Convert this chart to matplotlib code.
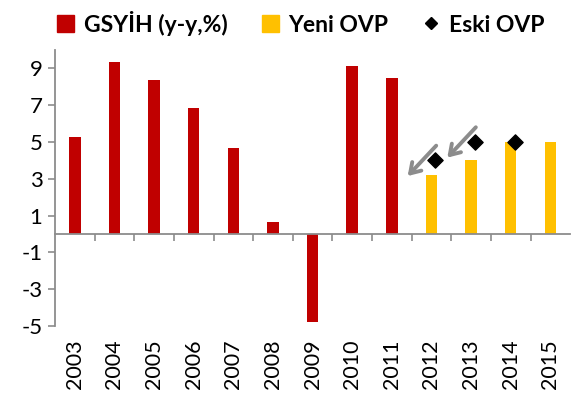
import numpy as np
import matplotlib.pyplot as plt
from matplotlib.lines import Line2D
from matplotlib.patches import Patch
import matplotlib.transforms as mtransforms

plt.rcParams['font.family'] = ['Lato', 'DejaVu Sans']
plt.rcParams['axes.unicode_minus'] = False

years = ['2003', '2004', '2005', '2006', '2007', '2008', '2009',
         '2010', '2011', '2012', '2013', '2014', '2015']
gsyih = [5.25, 9.35, 8.35, 6.85, 4.65, 0.65, -4.8, 9.15, 8.5]
yeni_ovp = [3.2, 4.0, 5.0, 5.0]
eski_ovp = [4.0, 5.0, 5.0]
yticks = [-5, -3, -1, 1, 3, 5, 7, 9]

red = '#C00000'
yellow = '#FFC000'
gray = '#8C8C8C'

fig = plt.figure(figsize=(5.73, 4.03), dpi=100)
ax = fig.add_axes([0.096, 0.191, 0.899, 0.685])

x = np.arange(len(years))
n_hist = len(gsyih)
w = 0.29
ax.bar(x[:n_hist], gsyih, width=w, color=red)
ax.bar(x[n_hist:], yeni_ovp, width=w, color=yellow)
ax.scatter(x[n_hist:n_hist + len(eski_ovp)] + 0.1, eski_ovp, marker='D', s=60,
           color='black', zorder=4)

# arrows pointing from old forecasts to the revised ones
for i, v in zip(x[n_hist:n_hist + 2], eski_ovp[:2]):
    ax.annotate('', xy=(i - 0.6, v - 0.85), xytext=(i + 0.12, v + 0.8),
                arrowprops=dict(arrowstyle='->,head_length=0.7,head_width=0.45',
                                color=gray, lw=2.8, shrinkA=0, shrinkB=0))

ax.set_xlim(-0.5, len(years) - 0.5)
ax.set_ylim(-5, 10)
ax.set_yticks(yticks)
ax.tick_params(axis='y', labelsize=16, color=gray, length=5, width=1.2, pad=4)

for s in ['top', 'right']:
    ax.spines[s].set_visible(False)
ax.spines['left'].set_color(gray)
ax.spines['left'].set_linewidth(1.3)
ax.spines['left'].set_bounds(-5, 10)
ax.spines['bottom'].set_position(('data', 0))
ax.spines['bottom'].set_color(gray)
ax.spines['bottom'].set_linewidth(1.3)
ax.set_xticks(x[:-1] + 0.5)
ax.set_xticklabels([])
ax.tick_params(axis='x', color=gray, length=5, width=1.2, direction='out')

trans = mtransforms.blended_transform_factory(ax.transData, ax.transAxes)
for xi, yr in zip(x, years):
    ax.text(xi, -0.05, yr, transform=trans, rotation=90, ha='center', va='top',
            fontsize=15.5)

handles = [Patch(color=red), Patch(color=yellow),
           Line2D([], [], marker='D', color='black', linestyle='none', markersize=6)]
labels = ['GSYİH (y-y,%)', 'Yeni OVP', 'Eski OVP']
fig.legend(handles, labels, loc='upper center', bbox_to_anchor=(0.525, 1.025), ncol=3,
           frameon=False, prop={'weight': 'bold', 'size': 16.5},
           handlelength=0.75, handleheight=0.75, handletextpad=0.4, columnspacing=1.5)

fig.savefig('out.png', dpi=100)
